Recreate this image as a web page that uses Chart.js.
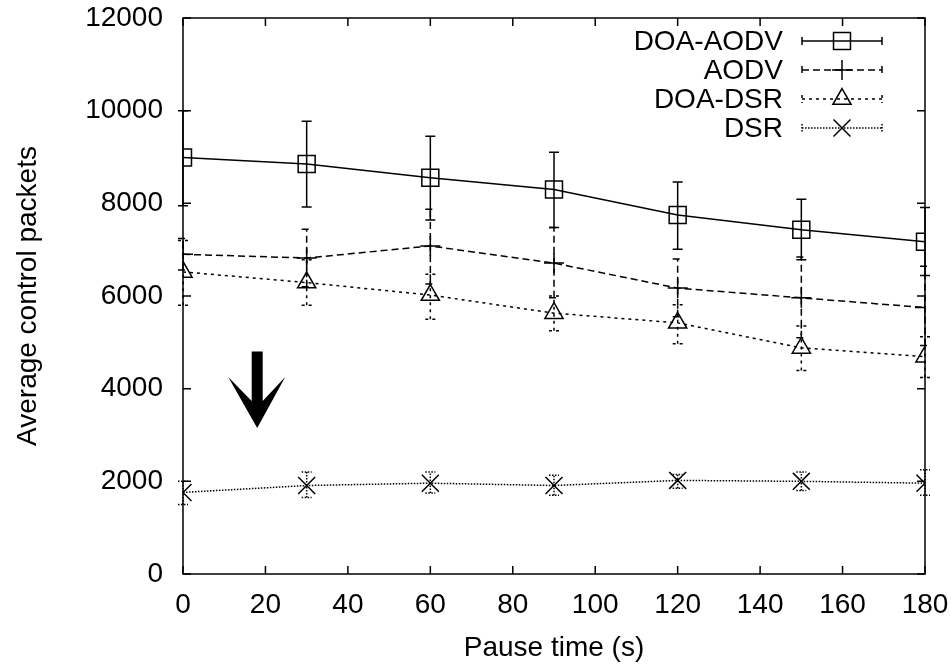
<!DOCTYPE html>
<html>
<head>
<meta charset="utf-8">
<script src="https://cdn.jsdelivr.net/npm/chart.js@4/dist/chart.umd.min.js"></script>
<style>
  html, body { margin: 0; padding: 0; background: #fff; }
</style>
</head>
<body>
<canvas id="chart" width="951" height="665"></canvas>
<script>
const pauseTimes = [0, 30, 60, 90, 120, 150, 180];

const doaAodv = [8990, 8850, 8550, 8300, 7750, 7430, 7170];
const doaAodvLow = [7950, 7920, 7640, 7480, 7010, 6780, 6440];
const doaAodvHigh = [10000, 9770, 9450, 9100, 8460, 8090, 7910];

const aodv = [6900, 6820, 7080, 6710, 6170, 5960, 5750];
const aodvLow = [6560, 6200, 6260, 5960, 5550, 5100, 4930];
const aodvHigh = [7240, 7440, 7870, 7480, 6800, 6840, 6640];

const doaDsr = [6520, 6290, 6020, 5630, 5420, 4880, 4690];
const doaDsrLow = [5800, 5800, 5500, 5250, 4970, 4390, 4240];
const doaDsrHigh = [7200, 6780, 6470, 6000, 5810, 5350, 5120];

const dsr = [1760, 1910, 1960, 1910, 2020, 2000, 1960];
const dsrLow = [1500, 1650, 1750, 1700, 1850, 1800, 1700];
const dsrHigh = [2000, 2200, 2200, 2130, 2150, 2200, 2250];

const seriesNames = ["DOA-AODV", "AODV", "DOA-DSR", "DSR"];

const FONT = "'Liberation Sans', Arial, Helvetica, sans-serif";

function points(values) {
  return pauseTimes.map((t, i) => ({ x: t, y: values[i] }));
}

const series = [
  { name: seriesNames[0], values: doaAodv, low: doaAodvLow, high: doaAodvHigh, dash: [], style: "rect", radius: 12 },
  { name: seriesNames[1], values: aodv, low: aodvLow, high: aodvHigh, dash: [7, 4], style: "cross", radius: 10 },
  { name: seriesNames[2], values: doaDsr, low: doaDsrLow, high: doaDsrHigh, dash: [3, 4], style: "triangle", radius: 10.5 },
  { name: seriesNames[3], values: dsr, low: dsrLow, high: dsrHigh, dash: [1.5, 1.5], style: "crossRot", radius: 12 },
];

// gnuplot-like marker for the key
function drawMarker(ctx, style, r, x, y) {
  ctx.beginPath();
  if (style === "rect") {
    const s = r * Math.SQRT1_2;
    ctx.rect(x - s, y - s, 2 * s, 2 * s);
  } else if (style === "cross") {
    ctx.moveTo(x - r, y); ctx.lineTo(x + r, y);
    ctx.moveTo(x, y - r); ctx.lineTo(x, y + r);
  } else if (style === "triangle") {
    let a = 0;
    ctx.moveTo(x + Math.sin(a) * r, y - Math.cos(a) * r);
    a += 2 * Math.PI / 3;
    ctx.lineTo(x + Math.sin(a) * r, y - Math.cos(a) * r);
    a += 2 * Math.PI / 3;
    ctx.lineTo(x + Math.sin(a) * r, y - Math.cos(a) * r);
    ctx.closePath();
  } else if (style === "crossRot") {
    const d = r * Math.SQRT1_2;
    ctx.moveTo(x - d, y - d); ctx.lineTo(x + d, y + d);
    ctx.moveTo(x - d, y + d); ctx.lineTo(x + d, y - d);
  }
  ctx.stroke();
}

const errorBars = {
  id: "errorBars",
  beforeDatasetsDraw(chart) {
    const { ctx, scales: { x, y } } = chart;
    ctx.save();
    ctx.strokeStyle = "#000";
    ctx.lineWidth = 1.5;
    series.forEach((s) => {
      ctx.setLineDash(s.dash);
      pauseTimes.forEach((t, i) => {
        const px = x.getPixelForValue(t);
        const lo = y.getPixelForValue(s.low[i]);
        const hi = y.getPixelForValue(s.high[i]);
        ctx.beginPath();
        ctx.moveTo(px, lo); ctx.lineTo(px, hi);
        ctx.moveTo(px - 5, lo); ctx.lineTo(px + 5, lo);
        ctx.moveTo(px - 5, hi); ctx.lineTo(px + 5, hi);
        ctx.stroke();
      });
    });
    ctx.restore();
  },
};

const frame = {
  id: "frame",
  afterDraw(chart) {
    const { ctx, chartArea: a, scales: { x, y } } = chart;
    ctx.save();
    ctx.strokeStyle = "#000";
    ctx.lineWidth = 1.5;
    ctx.setLineDash([]);
    ctx.strokeRect(a.left, a.top, a.right - a.left, a.bottom - a.top);
    ctx.beginPath();
    const tl = 8;
    x.ticks.forEach((t) => {
      const px = x.getPixelForValue(t.value);
      ctx.moveTo(px, a.bottom); ctx.lineTo(px, a.bottom - tl);
      ctx.moveTo(px, a.top); ctx.lineTo(px, a.top + tl);
    });
    y.ticks.forEach((t) => {
      const py = y.getPixelForValue(t.value);
      ctx.moveTo(a.left, py); ctx.lineTo(a.left + tl, py);
      ctx.moveTo(a.right, py); ctx.lineTo(a.right - tl, py);
    });
    ctx.stroke();

    // key
    ctx.font = "28px " + FONT;
    ctx.fillStyle = "#000";
    ctx.textAlign = "right";
    ctx.textBaseline = "middle";
    series.forEach((s, i) => {
      const ry = a.top + 23 + i * 29;
      ctx.fillText(s.name, a.left + 600, ry + 1);
      const x0 = a.left + 619, x1 = a.left + 699;
      ctx.setLineDash(s.dash);
      ctx.beginPath();
      ctx.moveTo(x0, ry); ctx.lineTo(x1, ry);
      ctx.moveTo(x0, ry - 4); ctx.lineTo(x0, ry + 4);
      ctx.moveTo(x1, ry - 4); ctx.lineTo(x1, ry + 4);
      ctx.stroke();
      ctx.setLineDash([]);
      drawMarker(ctx, s.style, s.radius, (x0 + x1) / 2, ry);
    });

    // arrow
    const arrowX = 18, arrowFrom = 4800, arrowTo = 3150;
    const ax = x.getPixelForValue(arrowX);
    const y0 = y.getPixelForValue(arrowFrom);
    const y1 = y.getPixelForValue(arrowTo);
    ctx.beginPath();
    ctx.moveTo(ax - 5.5, y0);
    ctx.lineTo(ax + 5.5, y0);
    ctx.lineTo(ax + 5.5, y1 - 27);
    ctx.lineTo(ax + 28, y1 - 51);
    ctx.lineTo(ax, y1);
    ctx.lineTo(ax - 29, y1 - 51);
    ctx.lineTo(ax - 5.5, y1 - 27);
    ctx.closePath();
    ctx.fill();
    ctx.restore();
  },
};

new Chart(document.getElementById("chart"), {
  type: "line",
  data: {
    datasets: series.map((s) => ({
      label: s.name,
      data: points(s.values),
      borderColor: "#000",
      borderWidth: 1.5,
      borderDash: s.dash,
      pointStyle: s.style,
      pointRadius: s.radius,
      pointBorderColor: "#000",
      pointBackgroundColor: "rgba(0,0,0,0)",
      pointBorderWidth: 1.5,
      tension: 0,
    })),
  },
  options: {
    responsive: false,
    animation: false,
    layout: { padding: { top: 18, right: 26, left: 0, bottom: 0 } },
    plugins: { legend: { display: false }, tooltip: { enabled: false } },
    scales: {
      x: {
        type: "linear",
        min: 0,
        max: 180,
        afterFit: (scale) => {
          scale.height = 91;
          scale.paddingLeft = 0;
          scale.paddingRight = 0;
        },
        grid: { display: false, drawTicks: false },
        border: { display: false },
        ticks: { stepSize: 20, color: "#000", padding: 14, maxRotation: 0, font: { size: 28, family: FONT }, callback: (v) => String(v) },
        title: { display: true, text: "Pause time (s)", color: "#000", padding: { top: 0, bottom: 0 }, font: { size: 28, family: FONT } },
      },
      y: {
        min: 0,
        max: 12000,
        afterFit: (scale) => {
          scale.width = 183;
          scale.paddingTop = 0;
          scale.paddingBottom = 0;
        },
        grid: { display: false, drawTicks: false },
        border: { display: false },
        ticks: { stepSize: 2000, color: "#000", padding: 20, font: { size: 28, family: FONT }, callback: (v) => String(v) },
        title: { display: true, text: "Average control packets", color: "#000", padding: { top: 11, bottom: 0 }, font: { size: 28, family: FONT } },
      },
    },
  },
  plugins: [errorBars, frame],
});
</script>
</body>
</html>
